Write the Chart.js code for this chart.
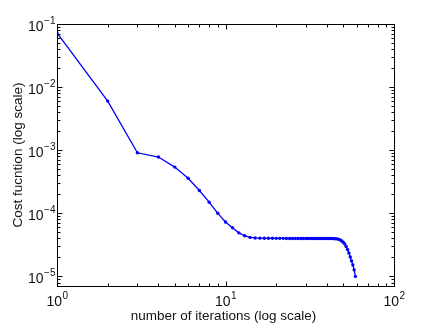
<!DOCTYPE html>
<html>
<head>
<meta charset="utf-8">
<script src="https://cdn.jsdelivr.net/npm/chart.js@4/dist/chart.umd.min.js"></script>
<style>
  html, body { margin: 0; padding: 0; background: #fff; }
  #costChart { display: block; }
</style>
</head>
<body>
<canvas id="costChart" width="436" height="327"></canvas>
<script>
// Iteraciones y valores de la función de coste
const iterations = [
    1, 2, 3, 4, 5, 6, 7, 8, 9, 10,
    11, 12, 13, 14, 15, 16, 17, 18, 19, 20,
    21, 22, 23, 24, 25, 26, 27, 28, 29, 30,
    31, 32, 33, 34, 35, 36, 37, 38, 39, 40,
    41, 42, 43, 44, 45, 46, 47, 48, 49, 50,
    51, 52, 53, 54, 55, 56, 57, 58, 59
];
const costValues = [
    7.2e-2, 6.0e-3, 9.1e-4, 7.8e-4, 5.4e-4, 3.6e-4, 2.3e-4, 1.5e-4, 1.0e-4, 7.3e-5,
    5.9e-5, 4.9e-5, 4.4e-5, 4.15e-5, 4.07e-5, 4.04e-5, 4.03e-5, 4.02e-5, 4.02e-5, 4.01e-5,
    4.01e-5, 4.01e-5, 4.0e-5, 4.0e-5, 4.0e-5, 4.0e-5, 4.0e-5, 4.0e-5, 4.0e-5, 4.0e-5,
    4.0e-5, 4.0e-5, 4.0e-5, 4.0e-5, 4.0e-5, 3.99e-5, 3.99e-5, 3.99e-5, 3.99e-5, 3.99e-5,
    3.98e-5, 3.98e-5, 3.98e-5, 3.97e-5, 3.96e-5, 3.93e-5, 3.87e-5, 3.77e-5, 3.64e-5, 3.47e-5,
    3.27e-5, 2.98e-5, 2.67e-5, 2.35e-5, 2.03e-5, 1.76e-5, 1.52e-5, 1.27e-5, 1.0e-5
];

// Etiquetas de los ejes (base y exponente)
const xTickExponents = ['0', '1', '2'];
const yTickExponents = ['\u22121', '\u22122', '\u22123', '\u22124', '\u22125'];
const xTitle = 'number of iterations (log scale)';
const yTitle = 'Cost fucntion (log scale)';

const FONT = '"Liberation Sans", Arial, Helvetica, sans-serif';

// Dibuja "10" con exponente en superíndice
function drawPower(ctx, expText, x, baseline, align) {
    ctx.font = '14px ' + FONT;
    const wBase = ctx.measureText('10').width;
    ctx.font = '10px ' + FONT;
    const wExp = ctx.measureText(expText).width;
    let start;
    if (align === 'center') start = x - (wBase + wExp) / 2;
    else start = x - (wBase + wExp);
    ctx.textAlign = 'left';
    ctx.textBaseline = 'alphabetic';
    ctx.font = '14px ' + FONT;
    ctx.fillText('10', start, baseline);
    ctx.font = '10px ' + FONT;
    ctx.fillText(expText, start + wBase + 0.5, baseline - 7);
}

// Plugin para la caja, marcas internas y etiquetas estilo MATLAB
const matlabAxes = {
    id: 'matlabAxes',
    afterDraw(chart) {
        const { ctx, chartArea: a, scales: { x, y } } = chart;
        ctx.save();
        ctx.strokeStyle = '#000';
        ctx.lineWidth = 1;
        const L = Math.round(a.left) + 0.5, R = Math.round(a.right) + 0.5;
        const T = Math.round(a.top) + 0.5, B = Math.round(a.bottom) + 0.5;
        ctx.strokeRect(L, T, R - L, B - T);

        ctx.beginPath();
        // marcas del eje x
        for (let k = 0; k <= 2; k++) {
            for (let m = 1; m <= 9; m++) {
                const v = m * Math.pow(10, k);
                if (v < x.min || v > x.max) continue;
                const px = Math.round(x.getPixelForValue(v)) + 0.5;
                const len = m === 1 ? 5 : 3;
                ctx.moveTo(px, B); ctx.lineTo(px, B - len);
                ctx.moveTo(px, T); ctx.lineTo(px, T + len);
            }
        }
        // marcas del eje y
        for (let k = -6; k <= -1; k++) {
            for (let m = 1; m <= 9; m++) {
                const v = m * Math.pow(10, k);
                if (v < y.min || v > y.max * 1.0001) continue;
                const py = Math.round(y.getPixelForValue(v)) + 0.5;
                const len = m === 1 ? 5 : 3;
                ctx.moveTo(L, py); ctx.lineTo(L + len, py);
                ctx.moveTo(R, py); ctx.lineTo(R - len, py);
            }
        }
        ctx.stroke();

        ctx.fillStyle = '#111';
        xTickExponents.forEach((e, i) => {
            const px = x.getPixelForValue(Math.pow(10, i));
            drawPower(ctx, e, px, a.bottom + 20, 'center');
        });
        yTickExponents.forEach((e, i) => {
            const py = y.getPixelForValue(Math.pow(10, -(i + 1)));
            drawPower(ctx, e, a.left - 2, py + 7, 'right');
        });

        // títulos de los ejes
        ctx.font = '13.5px ' + FONT;
        ctx.textAlign = 'center';
        ctx.textBaseline = 'alphabetic';
        ctx.fillText(xTitle, (a.left + a.right) / 2 - 2, 320);
        ctx.save();
        ctx.translate(22, (a.top + a.bottom) / 2);
        ctx.rotate(-Math.PI / 2);
        ctx.fillText(yTitle, 0, 0);
        ctx.restore();
        ctx.restore();
    }
};

const chartData = iterations.map((it, i) => ({ x: it, y: costValues[i] }));

const costCtx = document.getElementById('costChart').getContext('2d');
const costChart = new Chart(costCtx, {
    type: 'scatter',
    data: {
        datasets: [{
            data: chartData,
            showLine: true,
            borderColor: '#0000ff',
            backgroundColor: '#0000ff',
            borderWidth: 1.3,
            pointRadius: 1.7,
            pointBorderWidth: 0,
            tension: 0
        }]
    },
    options: {
        responsive: false,
        animation: false,
        devicePixelRatio: 1,
        layout: { padding: { left: 57, right: 42, top: 24, bottom: 41 } },
        plugins: { legend: { display: false }, tooltip: { enabled: false } },
        scales: {
            x: { type: 'logarithmic', min: 1, max: 100, display: false },
            y: { type: 'logarithmic', min: 7.05e-6, max: 0.1, display: false }
        }
    },
    plugins: [matlabAxes]
});
</script>
</body>
</html>
